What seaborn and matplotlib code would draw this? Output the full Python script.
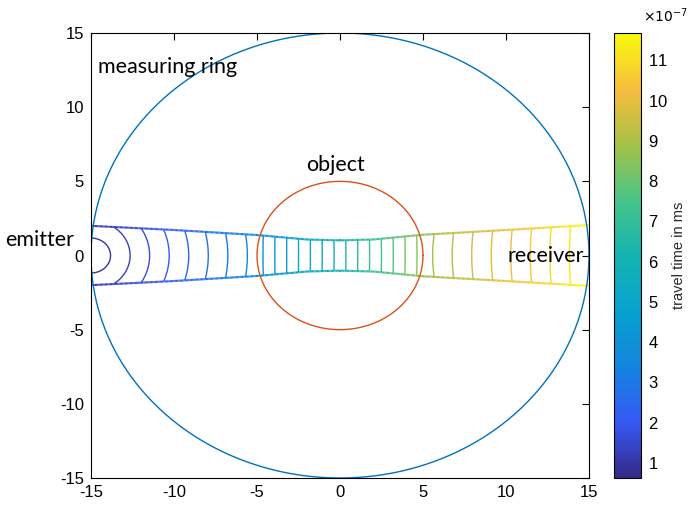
import numpy as np
import pandas as pd
import matplotlib
matplotlib.use("Agg")
import matplotlib.pyplot as plt
import seaborn as sns
from matplotlib.colors import LinearSegmentedColormap, Normalize
from matplotlib.collections import LineCollection
from matplotlib.ticker import ScalarFormatter

# geometry
ring_radius = 15.0
object_radius = 5.0
emitter = (-15.0, 0.0)

# half width of the ray tube along x
tube_x = [-15, -10, -5, -2, 0, 2, 5, 10, 15]
tube_halfwidth = [2.0, 1.72, 1.38, 1.08, 1.02, 1.08, 1.4, 1.72, 2.05]

# travel time model (units of 1e-7 ms)
t_start = 0.61
slowness_outside = 0.303
slowness_object = 0.50
n_levels = 32
t_min, t_max = 0.61, 11.67

# parula-like colour anchors
parula_colors = [
    (0.2081, 0.1663, 0.5292),
    (0.2116, 0.3456, 0.9600),
    (0.0780, 0.5200, 0.8750),
    (0.0300, 0.6350, 0.8100),
    (0.0800, 0.7000, 0.7000),
    (0.2800, 0.7700, 0.5300),
    (0.6500, 0.7600, 0.2800),
    (0.9700, 0.7400, 0.2400),
    (0.9763, 0.9831, 0.0538),
]
parula = LinearSegmentedColormap.from_list("parula", parula_colors)

sns.set_theme(style="white")
plt.rcParams["font.family"] = ["Liberation Sans", "DejaVu Sans"]
plt.rcParams["axes.unicode_minus"] = False
plt.rcParams["text.color"] = "black"

def travel_time(x, y):
    ex, ey = emitter
    dx, dy = x - ex, y - ey
    L = np.hypot(dx, dy)
    L = np.where(L == 0, 1e-9, L)
    ux, uy = dx / L, dy / L
    b = ex * ux + ey * uy
    c = ex**2 + ey**2 - object_radius**2
    disc = b**2 - c
    sq = np.sqrt(np.clip(disc, 0, None))
    t1 = np.maximum(-b - sq, 0)
    t2 = np.minimum(-b + sq, L)
    L_in = np.where(disc > 0, np.clip(t2 - t1, 0, None), 0)
    T = t_start + slowness_outside * (L - L_in) + slowness_object * L_in
    return T * 1e-7

xg = np.linspace(-15, 15, 901)
yg = np.linspace(-2.2, 2.2, 221)
X, Y = np.meshgrid(xg, yg)
hw = np.interp(X, tube_x, tube_halfwidth)
T = np.ma.masked_where(np.abs(Y) > hw, travel_time(X, Y))

norm = Normalize(vmin=t_min * 1e-7, vmax=t_max * 1e-7)
levels = np.linspace(t_min, t_max, n_levels) * 1e-7

fig = plt.figure(figsize=(6.9, 5.08), dpi=100)
ax = fig.add_axes([91 / 690, 30 / 508, 498 / 690, 445 / 508])
cax = fig.add_axes([614 / 690, 30 / 508, 27 / 690, 445 / 508])

ax.contour(X, Y, T, levels=levels, cmap=parula, norm=norm, linewidths=1.0)

# tube outline coloured by travel time
bx = np.linspace(-15, 15, 400)
bh = np.interp(bx, tube_x, tube_halfwidth)
for sign in (1, -1):
    by = sign * bh
    pts = np.column_stack([bx, by]).reshape(-1, 1, 2)
    segs = np.concatenate([pts[:-1], pts[1:]], axis=1)
    tv = travel_time(bx, by)
    lc = LineCollection(segs, cmap=parula, norm=norm, linewidths=1.5)
    lc.set_array(0.5 * (tv[:-1] + tv[1:]))
    ax.add_collection(lc)

# measuring ring and object
theta = np.linspace(0, 2 * np.pi, 400)
ring = pd.DataFrame({"x": ring_radius * np.cos(theta), "y": ring_radius * np.sin(theta)})
obj = pd.DataFrame({"x": object_radius * np.cos(theta), "y": object_radius * np.sin(theta)})
sns.lineplot(data=ring, x="x", y="y", sort=False, estimator=None,
             color=(0.0, 0.447, 0.741), lw=1.0, ax=ax)
sns.lineplot(data=obj, x="x", y="y", sort=False, estimator=None,
             color=(0.85, 0.325, 0.098), lw=1.0, ax=ax)

ax.set_xlim(-15, 15)
ax.set_ylim(-15, 15)
ax.set_xticks(np.arange(-15, 16, 5))
ax.set_yticks(np.arange(-15, 16, 5))
ax.set_xlabel("")
ax.set_ylabel("")
ax.tick_params(direction="in", length=5, width=0.8, labelsize=12, top=True, right=True,
               colors="black", labelcolor="black", pad=5)
for s in ax.spines.values():
    s.set_color("black")
    s.set_linewidth(0.8)

label_font = ["Lato", "DejaVu Sans"]
ax.text(-14.6, 12.7, "measuring ring", fontsize=15.5, family=label_font, va="center", ha="left")
ax.text(-0.3, 6.1, "object", fontsize=15.5, family=label_font, va="center", ha="center")
ax.text(-20.2, 1.05, "emitter", fontsize=15.5, family=label_font, va="center", ha="left", clip_on=False)
ax.text(10.1, 0.0, "receiver", fontsize=15.5, family=label_font, va="center", ha="left")

sm = plt.cm.ScalarMappable(norm=norm, cmap=parula)
cb = fig.colorbar(sm, cax=cax)
fmt = ScalarFormatter(useMathText=True)
fmt.set_powerlimits((-7, -7))
cb.formatter = fmt
cb.set_ticks(np.arange(1, 12) * 1e-7)
cb.update_ticks()
cb.ax.tick_params(direction="in", length=4, labelsize=12, colors="black", pad=5)
cb.ax.yaxis.get_offset_text().set_visible(False)
fig.text(643 / 690, 1 - 16 / 508, r"$\times10^{-7}$", fontsize=10, va="center", ha="left")
cb.outline.set_edgecolor("black")
cb.outline.set_linewidth(0.8)
cb.set_label("travel time in ms", fontsize=10.5, labelpad=3)

fig.savefig("out.png", dpi=100)
